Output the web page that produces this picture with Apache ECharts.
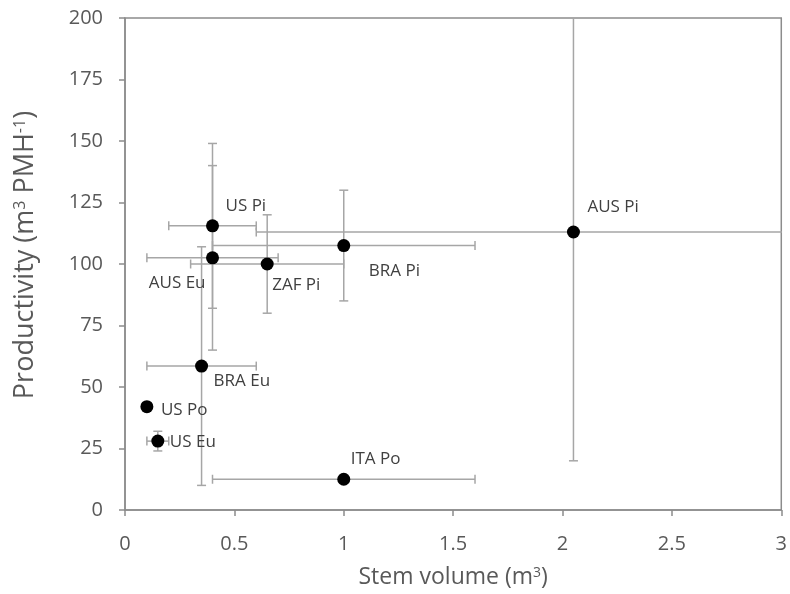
<!DOCTYPE html>
<html>
<head>
<meta charset="utf-8">
<script src="https://cdn.jsdelivr.net/npm/echarts@6/dist/echarts.min.js"></script>
<style>
  html, body { margin: 0; padding: 0; background: #ffffff; }
  #chart { width: 790px; height: 594px; }
</style>
</head>
<body>
<div id="chart"></div>
<script>
// Harvester productivity by stand type: mean stem volume vs. productivity, with ranges
const pointNames = ['US Pi', 'AUS Eu', 'ZAF Pi', 'BRA Pi', 'AUS Pi', 'BRA Eu', 'US Po', 'US Eu', 'ITA Po'];
const stemVolume = [0.4, 0.4, 0.65, 1.0, 2.05, 0.35, 0.1, 0.15, 1.0];
const productivity = [115.5, 102.5, 100, 107.5, 113, 58.5, 42, 28, 12.5];
const volumeError = [0.2, 0.3, 0.35, 0.6, 1.45, 0.25, null, 0.05, 0.6];
const productivityError = [33.5, 37.5, 20, 22.5, 93, 48.5, null, 4, null];

// label placement next to each marker: [dx, dy, align]
const labelPlacement = [
  [13, -20, 'left'], [-7, 25, 'right'], [5, 21, 'left'], [25, 26, 'left'], [14, -25, 'left'],
  [12, 15, 'left'], [14, 3, 'left'], [12, 1, 'left'], [7, -20, 'left']
];

const FONT = 'Open Sans';
const AXIS_COLOR = '#8c8c8c';
const ERR_COLOR = '#a6a6a6';
const TEXT_COLOR = '#595959';
const DOT = 13;

const errorData = pointNames.map((n, i) => [stemVolume[i], productivity[i], volumeError[i] || 0, productivityError[i] || 0]);
const pointData = pointNames.map((n, i) => ({
  name: n,
  value: [stemVolume[i], productivity[i]],
  label: {
    position: [DOT / 2 + labelPlacement[i][0], DOT / 2 + labelPlacement[i][1]],
    align: labelPlacement[i][2],
    verticalAlign: 'middle'
  }
}));

function renderErrorBars(params, api) {
  const x = api.value(0), y = api.value(1), ex = api.value(2), ey = api.value(3);
  const style = { stroke: ERR_COLOR, lineWidth: 1.5 };
  const cap = 4.5;
  const children = [];
  if (ex > 0) {
    const a = api.coord([x - ex, y]);
    const b = api.coord([x + ex, y]);
    children.push({ type: 'line', shape: { x1: a[0], y1: a[1], x2: b[0], y2: b[1] }, style });
    children.push({ type: 'line', shape: { x1: a[0], y1: a[1] - cap, x2: a[0], y2: a[1] + cap }, style });
    children.push({ type: 'line', shape: { x1: b[0], y1: b[1] - cap, x2: b[0], y2: b[1] + cap }, style });
  }
  if (ey > 0) {
    const a = api.coord([x, y - ey]);
    const b = api.coord([x, y + ey]);
    children.push({ type: 'line', shape: { x1: a[0], y1: a[1], x2: b[0], y2: b[1] }, style });
    children.push({ type: 'line', shape: { x1: a[0] - cap, y1: a[1], x2: a[0] + cap, y2: a[1] }, style });
    children.push({ type: 'line', shape: { x1: b[0] - cap, y1: b[1], x2: b[0] + cap, y2: b[1] }, style });
  }
  return { type: 'group', children };
}

const chart = echarts.init(document.getElementById('chart'), null, { renderer: 'canvas' });
chart.setOption({
  animation: false,
  backgroundColor: '#ffffff',
  textStyle: { fontFamily: FONT },
  grid: {
    left: 125, right: 5, top: 18, bottom: 82,
    show: true, borderColor: AXIS_COLOR, borderWidth: 1.5, backgroundColor: 'transparent'
  },
  xAxis: {
    type: 'value', min: 0, max: 3, interval: 0.5,
    name: 'Stem volume (m{sup|3})',
    nameLocation: 'middle', nameGap: 56,
    nameTextStyle: {
      color: TEXT_COLOR, fontSize: 23, fontFamily: FONT,
      rich: { sup: { fontSize: 14, verticalAlign: 'top', color: TEXT_COLOR, fontFamily: FONT } }
    },
    axisLine: { show: true, lineStyle: { color: AXIS_COLOR, width: 1.5 } },
    axisTick: { show: true, inside: false, length: 6, lineStyle: { color: AXIS_COLOR, width: 1.5 } },
    axisLabel: { color: TEXT_COLOR, fontSize: 20, margin: 24, fontFamily: FONT },
    splitLine: { show: false }
  },
  yAxis: {
    type: 'value', min: 0, max: 200, interval: 25,
    name: 'Productivity (m{sup|3} PMH{sup|-1})',
    nameLocation: 'middle', nameGap: 86,
    nameTextStyle: {
      color: TEXT_COLOR, fontSize: 27, fontFamily: FONT, padding: [0, 0, 0, 18],
      rich: { sup: { fontSize: 16, verticalAlign: 'top', color: TEXT_COLOR, fontFamily: FONT } }
    },
    axisLine: { show: true, lineStyle: { color: AXIS_COLOR, width: 1.5 } },
    axisTick: { show: true, inside: false, length: 6, lineStyle: { color: AXIS_COLOR, width: 1.5 } },
    axisLabel: { color: TEXT_COLOR, fontSize: 20, margin: 22, fontFamily: FONT },
    splitLine: { show: false }
  },
  series: [
    {
      type: 'custom',
      renderItem: renderErrorBars,
      clip: true,
      encode: { x: 0, y: 1 },
      data: errorData,
      z: 2,
      silent: true
    },
    {
      type: 'scatter',
      symbol: 'circle',
      symbolSize: DOT,
      itemStyle: { color: '#000000', opacity: 1 },
      label: {
        show: true,
        formatter: p => p.name,
        color: '#404040',
        fontSize: 17,
        fontFamily: FONT
      },
      data: pointData,
      z: 5
    }
  ]
});
</script>
</body>
</html>
